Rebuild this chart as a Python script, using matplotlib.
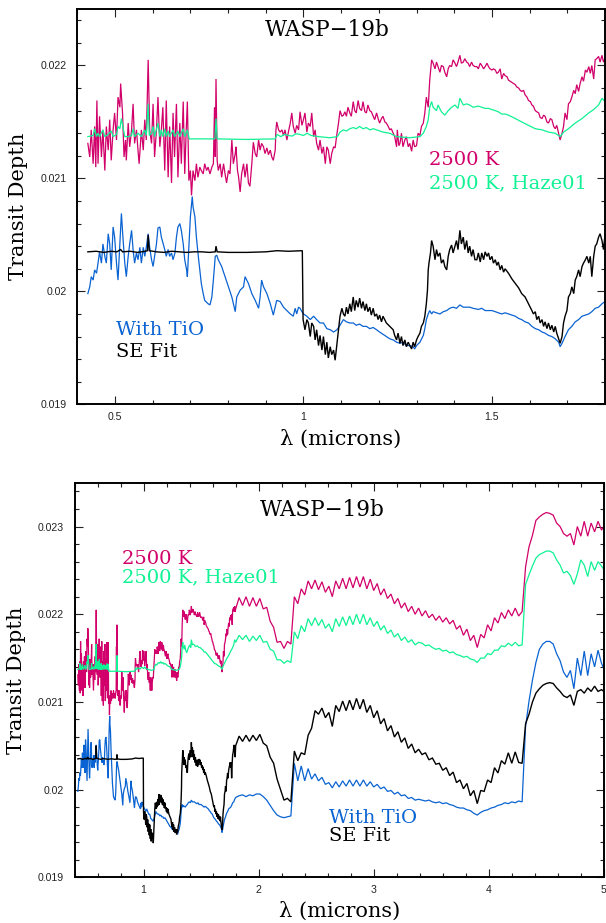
import numpy as np
import matplotlib
matplotlib.use("Agg")
import matplotlib.pyplot as plt
from matplotlib.ticker import MultipleLocator, FixedLocator, FixedFormatter

# ---------------- data (transit depth in units of 1e-3) ----------------
# short-wavelength detail (0.43 - 1.8 micron)
pink_wl = [
    0.428, 0.433, 0.437, 0.442, 0.446, 0.449, 0.452, 0.455, 0.459, 0.464,
    0.468, 0.473, 0.477, 0.482, 0.486, 0.490, 0.495, 0.499, 0.504, 0.508,
    0.513, 0.515, 0.520, 0.524, 0.528, 0.530, 0.535, 0.539, 0.544, 0.548,
    0.552, 0.557, 0.561, 0.564, 0.570, 0.575, 0.579, 0.583, 0.588, 0.592,
    0.597, 0.601, 0.605, 0.610, 0.614, 0.619, 0.623, 0.627, 0.632, 0.636,
    0.641, 0.645, 0.650, 0.654, 0.658, 0.663, 0.667, 0.672, 0.676, 0.681,
    0.685, 0.689, 0.692, 0.696, 0.700, 0.703, 0.707, 0.712, 0.716, 0.720,
    0.725, 0.729, 0.734, 0.738, 0.743, 0.747, 0.752, 0.757, 0.761, 0.764,
    0.766, 0.768, 0.771, 0.774, 0.779, 0.783, 0.788, 0.792, 0.796, 0.801,
    0.805, 0.810, 0.814, 0.819, 0.821, 0.825, 0.828, 0.832, 0.836, 0.841,
    0.845, 0.850, 0.854, 0.858, 0.863, 0.867, 0.872, 0.876, 0.881, 0.885,
    0.889, 0.894, 0.898, 0.903, 0.907, 0.912, 0.916, 0.920, 0.925, 0.927,
    0.929, 0.934, 0.938, 0.943, 0.947, 0.951, 0.956, 0.960, 0.965, 0.969,
    0.973, 0.978, 0.982, 0.987, 0.991, 0.996, 1.000, 1.004, 1.009, 1.013,
    1.018, 1.022, 1.027, 1.031, 1.035, 1.040, 1.044, 1.049, 1.053, 1.058,
    1.062, 1.066, 1.071, 1.075, 1.080, 1.084, 1.089, 1.093, 1.097, 1.102,
    1.106, 1.110, 1.114, 1.118, 1.123, 1.127, 1.132, 1.136, 1.140, 1.145,
    1.149, 1.154, 1.158, 1.163, 1.167, 1.171, 1.176, 1.180, 1.185, 1.189,
    1.194, 1.198, 1.202, 1.207, 1.211, 1.216, 1.220, 1.225, 1.229, 1.233,
    1.238, 1.242, 1.247, 1.249, 1.253, 1.256, 1.260, 1.264, 1.269, 1.273,
    1.278, 1.282, 1.287, 1.291, 1.295, 1.300, 1.304, 1.309, 1.313, 1.318,
    1.322, 1.326, 1.331, 1.335, 1.340, 1.344, 1.349, 1.353, 1.357, 1.362,
    1.366, 1.371, 1.375, 1.380, 1.384, 1.388, 1.393, 1.397, 1.402, 1.406,
    1.410, 1.415, 1.419, 1.424, 1.428, 1.433, 1.437, 1.441, 1.446, 1.450,
    1.455, 1.460, 1.464, 1.469, 1.473, 1.478, 1.482, 1.487, 1.491, 1.495,
    1.500, 1.504, 1.509, 1.513, 1.517, 1.522, 1.526, 1.531, 1.535, 1.540,
    1.544, 1.553, 1.562, 1.566, 1.571, 1.575, 1.579, 1.584, 1.588, 1.593,
    1.597, 1.602, 1.606, 1.610, 1.615, 1.619, 1.624, 1.628, 1.633, 1.637,
    1.641, 1.646, 1.650, 1.655, 1.659, 1.664, 1.668, 1.672, 1.677, 1.681,
    1.686, 1.690, 1.694, 1.699, 1.703, 1.708, 1.712, 1.717, 1.721, 1.725,
    1.730, 1.734, 1.739, 1.743, 1.748, 1.752, 1.757, 1.761, 1.765, 1.770,
    1.774, 1.778, 1.783, 1.787, 1.792, 1.796]
pink_td = [
    21.31, 21.19, 21.43, 21.13, 21.46, 21.10, 21.69, 21.13, 21.55, 21.19,
    21.43, 21.07, 21.46, 21.25, 21.52, 21.16, 21.43, 21.58, 21.34, 21.72,
    21.63, 21.84, 21.58, 21.19, 21.34, 21.16, 21.49, 21.28, 21.43, 21.66,
    21.31, 21.43, 21.25, 21.13, 21.43, 21.25, 21.52, 21.34, 22.05, 21.43,
    21.31, 21.66, 21.19, 21.43, 21.72, 21.28, 21.43, 21.63, 21.07, 21.69,
    21.01, 21.46, 20.96, 21.58, 21.19, 21.66, 21.01, 21.49, 21.13, 21.68,
    21.04, 21.43, 21.68, 20.98, 21.07, 20.85, 21.07, 20.98, 21.13, 21.01,
    21.10, 21.07, 21.04, 21.13, 21.07, 21.10, 21.04, 21.10, 21.13, 21.63,
    21.19, 21.88, 21.16, 21.07, 21.13, 21.01, 21.13, 21.04, 20.96, 21.07,
    21.04, 21.34, 21.13, 21.22, 21.28, 21.07, 21.01, 20.88, 21.04, 21.13,
    21.01, 21.13, 20.96, 20.93, 21.13, 21.32, 21.22, 21.19, 21.34, 21.25,
    21.31, 21.28, 21.22, 21.27, 21.21, 21.25, 21.19, 21.16, 21.25, 21.43,
    21.50, 21.43, 21.41, 21.43, 21.38, 21.43, 21.34, 21.41, 21.49, 21.58,
    21.46, 21.40, 21.47, 21.43, 21.59, 21.47, 21.52, 21.58, 21.41, 21.49,
    21.46, 21.58, 21.37, 21.43, 21.31, 21.25, 21.34, 21.22, 21.28, 21.13,
    21.28, 21.25, 21.13, 21.22, 21.28, 21.27, 21.40, 21.49, 21.60, 21.55,
    21.56, 21.59, 21.55, 21.63, 21.58, 21.55, 21.68, 21.60, 21.58, 21.69,
    21.62, 21.60, 21.68, 21.59, 21.58, 21.65, 21.60, 21.59, 21.55, 21.52,
    21.58, 21.53, 21.49, 21.53, 21.55, 21.50, 21.49, 21.46, 21.43, 21.44,
    21.40, 21.37, 21.28, 21.43, 21.29, 21.31, 21.40, 21.28, 21.34, 21.37,
    21.28, 21.31, 21.24, 21.34, 21.28, 21.29, 21.40, 21.38, 21.46, 21.49,
    21.58, 21.72, 21.63, 21.87, 22.05, 22.02, 21.97, 22.03, 21.99, 21.94,
    22.00, 21.99, 21.94, 21.90, 21.97, 22.00, 21.99, 22.05, 22.02, 21.99,
    22.03, 22.09, 22.02, 22.03, 22.06, 22.03, 22.02, 21.99, 22.03, 22.00,
    21.99, 21.99, 21.97, 22.02, 22.00, 21.97, 21.99, 22.02, 21.99, 21.97,
    21.96, 21.97, 21.96, 21.93, 21.94, 21.97, 21.88, 21.93, 21.91, 21.90,
    21.87, 21.85, 21.83, 21.81, 21.80, 21.78, 21.77, 21.78, 21.74, 21.72,
    21.69, 21.68, 21.65, 21.64, 21.60, 21.59, 21.58, 21.54, 21.53, 21.56,
    21.55, 21.50, 21.49, 21.53, 21.52, 21.46, 21.44, 21.47, 21.40, 21.34,
    21.40, 21.46, 21.58, 21.52, 21.66, 21.68, 21.72, 21.78, 21.75, 21.83,
    21.77, 21.84, 21.90, 21.86, 21.96, 21.94, 21.99, 21.93, 22.00, 21.88,
    22.05, 22.06, 22.08, 22.03, 22.09, 22.03]

green_wl = [
    0.428, 0.442, 0.446, 0.451, 0.455, 0.459, 0.468, 0.473, 0.482, 0.490,
    0.495, 0.504, 0.508, 0.513, 0.517, 0.521, 0.526, 0.535, 0.544, 0.548,
    0.552, 0.561, 0.570, 0.579, 0.583, 0.588, 0.591, 0.597, 0.601, 0.605,
    0.614, 0.619, 0.623, 0.627, 0.632, 0.636, 0.641, 0.645, 0.654, 0.658,
    0.667, 0.672, 0.681, 0.685, 0.692, 0.697, 0.730, 0.765, 0.768, 0.771,
    0.850, 0.925, 0.930, 0.940, 0.950, 0.960, 0.970, 0.980, 0.990, 1.000,
    1.010, 1.020, 1.030, 1.040, 1.055, 1.070, 1.090, 1.097, 1.106, 1.114,
    1.123, 1.132, 1.140, 1.149, 1.158, 1.167, 1.176, 1.185, 1.194, 1.211,
    1.229, 1.247, 1.265, 1.282, 1.309, 1.318, 1.326, 1.331, 1.335, 1.340,
    1.344, 1.353, 1.357, 1.366, 1.375, 1.384, 1.393, 1.402, 1.410, 1.415,
    1.424, 1.433, 1.441, 1.450, 1.464, 1.473, 1.482, 1.491, 1.500, 1.509,
    1.517, 1.526, 1.535, 1.544, 1.562, 1.579, 1.597, 1.615, 1.633, 1.650,
    1.668, 1.681, 1.690, 1.703, 1.721, 1.739, 1.757, 1.770, 1.783, 1.792]
green_td = [
    21.37, 21.38, 21.44, 21.37, 21.40, 21.37, 21.43, 21.37, 21.39, 21.42,
    21.37, 21.39, 21.46, 21.44, 21.53, 21.46, 21.37, 21.37, 21.38, 21.44,
    21.37, 21.40, 21.37, 21.43, 21.38, 21.66, 21.38, 21.40, 21.46, 21.37,
    21.49, 21.37, 21.43, 21.37, 21.44, 21.37, 21.42, 21.37, 21.43, 21.37,
    21.42, 21.37, 21.44, 21.37, 21.43, 21.35, 21.35, 21.35, 21.53, 21.35,
    21.345, 21.35, 21.39, 21.37, 21.39, 21.38, 21.375, 21.395, 21.39, 21.38,
    21.40, 21.38, 21.375, 21.37, 21.365, 21.36, 21.37, 21.41, 21.43, 21.42,
    21.44, 21.45, 21.44, 21.46, 21.44, 21.45, 21.43, 21.44, 21.43, 21.41,
    21.40, 21.37, 21.365, 21.36, 21.37, 21.40, 21.46, 21.52, 21.63, 21.68,
    21.63, 21.60, 21.65, 21.59, 21.56, 21.60, 21.63, 21.65, 21.62, 21.71,
    21.65, 21.66, 21.65, 21.63, 21.64, 21.63, 21.62, 21.62, 21.61, 21.60,
    21.59, 21.57, 21.57, 21.56, 21.53, 21.50, 21.47, 21.44, 21.43, 21.41,
    21.40, 21.37, 21.41, 21.44, 21.49, 21.53, 21.58, 21.61, 21.65, 21.71]

blue_wl = [
    0.428, 0.433, 0.437, 0.442, 0.446, 0.451, 0.455, 0.459, 0.464, 0.468,
    0.473, 0.477, 0.482, 0.486, 0.490, 0.495, 0.499, 0.504, 0.508, 0.513,
    0.517, 0.521, 0.526, 0.530, 0.535, 0.539, 0.544, 0.548, 0.552, 0.557,
    0.561, 0.566, 0.570, 0.575, 0.579, 0.583, 0.588, 0.592, 0.597, 0.601,
    0.605, 0.610, 0.614, 0.619, 0.623, 0.628, 0.632, 0.636, 0.641, 0.645,
    0.650, 0.654, 0.659, 0.663, 0.667, 0.672, 0.676, 0.681, 0.685, 0.690,
    0.692, 0.696, 0.700, 0.705, 0.707, 0.712, 0.716, 0.721, 0.725, 0.729,
    0.734, 0.738, 0.747, 0.752, 0.757, 0.761, 0.766, 0.770, 0.774, 0.783,
    0.792, 0.801, 0.810, 0.819, 0.823, 0.832, 0.841, 0.845, 0.854, 0.863,
    0.872, 0.881, 0.885, 0.889, 0.894, 0.903, 0.912, 0.920, 0.925, 0.929,
    0.938, 0.947, 0.956, 0.965, 0.973, 0.978, 0.982, 0.987, 0.991, 0.996,
    1.000, 1.009, 1.018, 1.027, 1.035, 1.044, 1.053, 1.062, 1.071, 1.080,
    1.089, 1.097, 1.106, 1.114, 1.123, 1.132, 1.140, 1.149, 1.158, 1.167,
    1.176, 1.185, 1.194, 1.202, 1.211, 1.220, 1.229, 1.238, 1.247, 1.256,
    1.264, 1.273, 1.282, 1.291, 1.295, 1.300, 1.309, 1.318, 1.322, 1.326,
    1.331, 1.335, 1.340, 1.344, 1.353, 1.362, 1.371, 1.380, 1.388, 1.397,
    1.406, 1.415, 1.424, 1.433, 1.441, 1.450, 1.464, 1.473, 1.482, 1.491,
    1.500, 1.509, 1.517, 1.526, 1.535, 1.544, 1.553, 1.562, 1.571, 1.579,
    1.588, 1.597, 1.606, 1.615, 1.624, 1.633, 1.641, 1.650, 1.659, 1.668,
    1.677, 1.681, 1.686, 1.694, 1.703, 1.712, 1.721, 1.730, 1.739, 1.748,
    1.757, 1.765, 1.774, 1.783, 1.792]
blue_td = [
    19.98, 20.04, 20.13, 20.10, 20.19, 20.16, 20.25, 20.35, 20.25, 20.42,
    20.31, 20.25, 20.51, 20.42, 20.19, 20.57, 20.48, 20.25, 20.10, 20.42,
    20.69, 20.48, 20.25, 20.13, 20.31, 20.42, 20.54, 20.37, 20.25, 20.34,
    20.28, 20.39, 20.25, 20.39, 20.31, 20.39, 20.51, 20.39, 20.28, 20.22,
    20.31, 20.42, 20.56, 20.57, 20.48, 20.42, 20.37, 20.31, 20.37, 20.31,
    20.34, 20.28, 20.34, 20.48, 20.57, 20.60, 20.54, 20.42, 20.28, 20.19,
    20.13, 20.39, 20.66, 20.84, 20.75, 20.66, 20.48, 20.31, 20.19, 20.07,
    19.98, 19.92, 19.89, 19.88, 19.95, 20.10, 20.31, 20.32, 20.28, 20.22,
    20.13, 20.04, 19.95, 19.82, 19.95, 20.01, 20.04, 20.13, 20.07, 19.98,
    19.92, 19.85, 19.95, 20.10, 20.04, 19.98, 19.89, 19.79, 19.86, 19.92,
    19.91, 19.86, 19.83, 19.80, 19.78, 19.85, 19.80, 19.86, 19.85, 19.82,
    19.80, 19.78, 19.75, 19.78, 19.75, 19.72, 19.72, 19.67, 19.66, 19.64,
    19.66, 19.70, 19.75, 19.73, 19.72, 19.72, 19.70, 19.71, 19.69, 19.69,
    19.67, 19.68, 19.66, 19.64, 19.62, 19.60, 19.58, 19.57, 19.55, 19.54,
    19.55, 19.52, 19.52, 19.51, 19.49, 19.52, 19.55, 19.61, 19.67, 19.75,
    19.80, 19.83, 19.80, 19.82, 19.81, 19.80, 19.82, 19.83, 19.85, 19.86,
    19.85, 19.88, 19.86, 19.86, 19.86, 19.85, 19.84, 19.85, 19.83, 19.83,
    19.83, 19.82, 19.81, 19.80, 19.81, 19.80, 19.79, 19.78, 19.76, 19.75,
    19.73, 19.72, 19.69, 19.67, 19.66, 19.64, 19.63, 19.61, 19.60, 19.58,
    19.55, 19.51, 19.54, 19.60, 19.66, 19.69, 19.73, 19.75, 19.78, 19.79,
    19.80, 19.82, 19.85, 19.86, 19.89]

black_wl = [
    0.428, 0.450, 0.470, 0.490, 0.505, 0.515, 0.520, 0.540, 0.560, 0.580,
    0.586, 0.588, 0.591, 0.610, 0.630, 0.650, 0.670, 0.690, 0.710, 0.730,
    0.750, 0.766, 0.768, 0.771, 0.800, 0.850, 0.900, 0.930, 0.960, 0.997,
    0.999, 1.004, 1.009, 1.013, 1.018, 1.022, 1.027, 1.031, 1.035, 1.040,
    1.044, 1.049, 1.053, 1.058, 1.062, 1.066, 1.071, 1.075, 1.080, 1.084,
    1.089, 1.093, 1.097, 1.102, 1.106, 1.110, 1.114, 1.118, 1.123, 1.127,
    1.132, 1.136, 1.140, 1.145, 1.149, 1.154, 1.158, 1.163, 1.167, 1.171,
    1.176, 1.180, 1.185, 1.189, 1.194, 1.198, 1.202, 1.207, 1.211, 1.220,
    1.229, 1.238, 1.242, 1.247, 1.251, 1.256, 1.260, 1.264, 1.269, 1.273,
    1.278, 1.282, 1.287, 1.291, 1.295, 1.300, 1.304, 1.309, 1.313, 1.318,
    1.322, 1.326, 1.329, 1.331, 1.333, 1.337, 1.340, 1.344, 1.349, 1.353,
    1.357, 1.362, 1.366, 1.371, 1.375, 1.380, 1.384, 1.388, 1.393, 1.397,
    1.402, 1.406, 1.410, 1.415, 1.419, 1.424, 1.428, 1.433, 1.437, 1.441,
    1.446, 1.450, 1.455, 1.460, 1.464, 1.469, 1.473, 1.478, 1.482, 1.487,
    1.491, 1.495, 1.500, 1.504, 1.509, 1.513, 1.517, 1.522, 1.526, 1.531,
    1.535, 1.544, 1.553, 1.562, 1.571, 1.579, 1.588, 1.597, 1.606, 1.610,
    1.615, 1.619, 1.624, 1.628, 1.633, 1.637, 1.641, 1.646, 1.650, 1.655,
    1.659, 1.664, 1.668, 1.672, 1.677, 1.681, 1.686, 1.690, 1.694, 1.699,
    1.703, 1.708, 1.712, 1.717, 1.721, 1.725, 1.730, 1.734, 1.739, 1.743,
    1.748, 1.752, 1.757, 1.761, 1.765, 1.770, 1.774, 1.778, 1.783, 1.787,
    1.792, 1.796]
black_td = [
    20.35, 20.355, 20.345, 20.355, 20.35, 20.37, 20.35, 20.355, 20.345, 20.355,
    20.36, 20.50, 20.36, 20.35, 20.345, 20.355, 20.35, 20.345, 20.35, 20.35,
    20.345, 20.35, 20.40, 20.35, 20.345, 20.345, 20.35, 20.36, 20.355, 20.36,
    19.75, 19.66, 19.75, 19.72, 19.60, 19.72, 19.69, 19.57, 19.66, 19.52,
    19.61, 19.48, 19.60, 19.44, 19.55, 19.41, 19.51, 19.44, 19.48, 19.39,
    19.54, 19.66, 19.78, 19.85, 19.80, 19.78, 19.86, 19.80, 19.89, 19.82,
    19.95, 19.83, 19.92, 19.86, 19.94, 19.85, 19.91, 19.83, 19.89, 19.82,
    19.86, 19.79, 19.85, 19.78, 19.80, 19.75, 19.79, 19.73, 19.78, 19.72,
    19.69, 19.66, 19.61, 19.57, 19.63, 19.54, 19.60, 19.52, 19.57, 19.51,
    19.55, 19.52, 19.49, 19.55, 19.51, 19.57, 19.60, 19.63, 19.69, 19.72,
    19.78, 19.89, 20.01, 20.19, 20.25, 20.34, 20.45, 20.40, 20.28, 20.37,
    20.31, 20.34, 20.25, 20.28, 20.22, 20.19, 20.31, 20.37, 20.41, 20.34,
    20.40, 20.45, 20.37, 20.54, 20.42, 20.48, 20.37, 20.45, 20.34, 20.40,
    20.31, 20.37, 20.28, 20.28, 20.34, 20.26, 20.34, 20.28, 20.35, 20.31,
    20.34, 20.28, 20.31, 20.25, 20.28, 20.23, 20.26, 20.19, 20.23, 20.17,
    20.20, 20.16, 20.11, 20.07, 20.03, 19.98, 19.95, 19.89, 19.83, 19.80,
    19.82, 19.75, 19.78, 19.72, 19.75, 19.69, 19.73, 19.67, 19.72, 19.66,
    19.70, 19.64, 19.69, 19.63, 19.58, 19.54, 19.60, 19.72, 19.78, 19.83,
    19.95, 19.98, 20.04, 19.98, 20.10, 20.13, 20.19, 20.13, 20.22, 20.25,
    20.28, 20.31, 20.25, 20.31, 20.13, 20.31, 20.40, 20.42, 20.48, 20.51,
    20.45, 20.37]

# long-wavelength part (1.8 - 5 micron), common wavelength sampling
wl_long = [
    1.80, 1.83, 1.86, 1.89, 1.92, 1.95, 1.98, 2.01, 2.04, 2.07,
    2.10, 2.13, 2.16, 2.19, 2.22, 2.25, 2.28, 2.31, 2.34, 2.37,
    2.40, 2.43, 2.46, 2.49, 2.52, 2.55, 2.58, 2.61, 2.64, 2.67,
    2.70, 2.73, 2.76, 2.79, 2.82, 2.85, 2.88, 2.91, 2.94, 2.97,
    3.00, 3.03, 3.06, 3.09, 3.12, 3.15, 3.18, 3.21, 3.24, 3.27,
    3.30, 3.33, 3.36, 3.39, 3.42, 3.45, 3.48, 3.51, 3.54, 3.57,
    3.60, 3.63, 3.66, 3.69, 3.72, 3.75, 3.78, 3.81, 3.84, 3.87,
    3.90, 3.93, 3.96, 3.99, 4.02, 4.05, 4.08, 4.11, 4.14, 4.17,
    4.20, 4.23, 4.26, 4.29, 4.32, 4.35, 4.38, 4.41, 4.44, 4.47,
    4.50, 4.53, 4.56, 4.59, 4.62, 4.65, 4.68, 4.71, 4.74, 4.77,
    4.80, 4.83, 4.86, 4.89, 4.92, 4.95, 4.98, 5.00]
pink_long = [
    22.06, 22.19, 22.10, 22.20, 22.09, 22.19, 22.09, 22.18, 22.06, 22.08,
    21.92, 21.85, 21.68, 21.69, 21.61, 21.69, 21.66, 22.20, 22.12, 22.29,
    22.22, 22.38, 22.29, 22.39, 22.28, 22.37, 22.25, 22.32, 22.20, 22.38,
    22.29, 22.41, 22.29, 22.42, 22.30, 22.43, 22.31, 22.43, 22.29, 22.40,
    22.27, 22.35, 22.22, 22.29, 22.18, 22.23, 22.12, 22.18, 22.07, 22.13,
    22.03, 22.09, 22.00, 22.07, 21.98, 22.04, 21.96, 22.00, 21.93, 21.98,
    21.91, 21.96, 21.89, 21.93, 21.83, 21.87, 21.76, 21.83, 21.70, 21.76,
    21.62, 21.77, 21.73, 21.88, 21.81, 21.96, 21.90, 22.02, 21.95, 22.05,
    21.98, 22.07, 21.98, 22.03, 22.54, 22.77, 22.90, 23.07, 23.11, 23.14,
    23.16, 23.15, 23.13, 23.04, 23.00, 22.92, 22.89, 22.92, 22.79, 23.00,
    22.89, 23.06, 22.89, 23.04, 22.94, 23.06, 22.96, 23.00]
green_long = [
    21.68, 21.76, 21.71, 21.76, 21.69, 21.75, 21.70, 21.76, 21.68, 21.69,
    21.60, 21.58, 21.48, 21.48, 21.44, 21.47, 21.45, 21.80, 21.72, 21.87,
    21.80, 21.95, 21.87, 21.96, 21.87, 21.94, 21.84, 21.89, 21.80, 21.95,
    21.86, 21.97, 21.87, 21.98, 21.88, 22.00, 21.89, 22.00, 21.88, 21.96,
    21.86, 21.92, 21.82, 21.87, 21.78, 21.82, 21.74, 21.78, 21.70, 21.74,
    21.68, 21.71, 21.65, 21.68, 21.67, 21.64, 21.65, 21.62, 21.60, 21.61,
    21.58, 21.59, 21.56, 21.57, 21.54, 21.53, 21.51, 21.52, 21.49, 21.48,
    21.45, 21.50, 21.50, 21.55, 21.54, 21.59, 21.59, 21.64, 21.63, 21.67,
    21.64, 21.68, 21.64, 21.65, 22.34, 22.45, 22.55, 22.64, 22.68, 22.70,
    22.72, 22.72, 22.70, 22.62, 22.56, 22.47, 22.49, 22.44, 22.34, 22.46,
    22.62, 22.56, 22.43, 22.60, 22.50, 22.60, 22.55, 22.51]
blue_long = [
    19.91, 19.93, 19.94, 19.92, 19.94, 19.93, 19.95, 19.95, 19.92, 19.88,
    19.82, 19.76, 19.71, 19.69, 19.68, 19.69, 19.70, 20.30, 20.10, 20.27,
    20.10, 20.24, 20.12, 20.18, 20.10, 20.14, 20.06, 20.08, 20.02, 20.09,
    20.03, 20.10, 20.04, 20.11, 20.04, 20.11, 20.04, 20.11, 20.04, 20.09,
    20.03, 20.06, 20.01, 20.03, 19.98, 19.99, 19.95, 19.97, 19.93, 19.94,
    19.90, 19.91, 19.88, 19.89, 19.88, 19.87, 19.88, 19.86, 19.85, 19.86,
    19.84, 19.85, 19.83, 19.82, 19.80, 19.79, 19.79, 19.77, 19.76, 19.73,
    19.71, 19.74, 19.76, 19.77, 19.79, 19.80, 19.82, 19.83, 19.85, 19.84,
    19.86, 19.85, 19.87, 19.86, 20.72, 21.01, 21.25, 21.45, 21.60, 21.66,
    21.69, 21.69, 21.66, 21.55, 21.47, 21.34, 21.28, 21.36, 21.15, 21.50,
    21.30, 21.58, 21.30, 21.55, 21.40, 21.59, 21.44, 21.38]
black_long = [
    20.50, 20.61, 20.55, 20.62, 20.55, 20.62, 20.56, 20.63, 20.53, 20.50,
    20.37, 20.30, 20.12, 20.00, 19.88, 19.90, 19.86, 20.44, 20.33, 20.42,
    20.40, 20.62, 20.70, 20.90, 20.86, 20.93, 20.82, 20.88, 20.72, 20.96,
    20.89, 21.01, 20.90, 21.02, 20.91, 21.04, 20.92, 21.03, 20.88, 20.96,
    20.82, 20.90, 20.75, 20.81, 20.67, 20.73, 20.60, 20.66, 20.54, 20.59,
    20.47, 20.52, 20.42, 20.46, 20.40, 20.42, 20.34, 20.36, 20.29, 20.30,
    20.22, 20.25, 20.16, 20.20, 20.08, 20.11, 20.01, 20.07, 19.93, 19.99,
    19.84, 19.99, 19.98, 20.11, 20.08, 20.25, 20.19, 20.33, 20.29, 20.42,
    20.30, 20.43, 20.31, 20.30, 20.75, 20.86, 21.00, 21.10, 21.15, 21.19,
    21.21, 21.22, 21.21, 21.16, 21.12, 21.07, 21.05, 21.08, 20.96, 21.12,
    21.14, 21.10, 21.16, 21.12, 21.18, 21.12, 21.14, 21.12]

# tick labels / texts
top_xticks = [0.5, 1.0, 1.5]
top_xlabels = ["0.5", "1", "1.5"]
top_yticks = [0.019, 0.020, 0.021, 0.022]
top_ylabels = ["0.019", "0.02", "0.021", "0.022"]
bot_xticks = [1, 2, 3, 4, 5]
bot_xlabels = ["1", "2", "3", "4", "5"]
bot_yticks = [0.019, 0.020, 0.021, 0.022, 0.023]
bot_ylabels = ["0.019", "0.02", "0.021", "0.022", "0.023"]

PINK = "#D1006A"
GREEN = "#10F293"
BLUE = "#0A63D2"
BLACK = "#000000"

series = [
    (pink_wl, pink_td, pink_long, PINK, 0.9),
    (green_wl, green_td, green_long, GREEN, 0.9),
    (blue_wl, blue_td, blue_long, BLUE, 0.9),
    (black_wl, black_td, black_long, BLACK, 1.0),
]

SERIF = ["DejaVu Serif"]
TICKFONT = ["Liberation Sans", "DejaVu Sans"]

W, H = 606, 923
fig = plt.figure(figsize=(W / 100, H / 100), dpi=100)
ax1 = fig.add_axes([77.3 / W, (H - 404.3) / H, 527.7 / W, 395.3 / H])
ax2 = fig.add_axes([74.6 / W, (H - 877.3) / H, 529.2 / W, 394.6 / H])

for ax in (ax1, ax2):
    for swl, std, ltd, col, lw in series:
        wl = np.concatenate([np.array(swl), np.array(wl_long)])
        td = np.concatenate([np.array(std), np.array(ltd)]) * 1e-3
        ax.plot(wl, td, color=col, lw=lw, solid_joinstyle="miter")

def style(ax, xlim, ylim, xt, xl, yt, yl, xminor):
    ax.set_xlim(*xlim)
    ax.set_ylim(*ylim)
    ax.xaxis.set_major_locator(FixedLocator(xt))
    ax.xaxis.set_major_formatter(FixedFormatter(xl))
    ax.yaxis.set_major_locator(FixedLocator(yt))
    ax.yaxis.set_major_formatter(FixedFormatter(yl))
    ax.xaxis.set_minor_locator(MultipleLocator(xminor))
    ax.yaxis.set_minor_locator(MultipleLocator(0.0002))
    ax.tick_params(which="both", direction="in", top=True, right=True,
                   width=0.8, color="#222222")
    ax.tick_params(which="major", length=6.0)
    ax.tick_params(which="minor", length=3.0)
    ax.tick_params(axis="y", pad=7.5)
    ax.tick_params(axis="x", pad=5.5)
    for lab in ax.get_xticklabels() + ax.get_yticklabels():
        lab.set_fontfamily(TICKFONT)
        lab.set_fontsize(7.6)
        lab.set_color("#222222")
    for sp in ax.spines.values():
        sp.set_linewidth(1.4)

style(ax1, (0.4, 1.8), (0.019, 0.0225), top_xticks, top_xlabels,
      top_yticks, top_ylabels, 0.1)
style(ax2, (0.4, 5.0), (0.019, 0.0235), bot_xticks, bot_xlabels,
      bot_yticks, bot_ylabels, 0.2)

# titles and labels
ax1.text(0.474, 0.947, "WASP\u221219b", transform=ax1.transAxes, ha="center",
         va="center", fontsize=15.5, family=SERIF)
ax2.text(0.4675, 0.931, "WASP\u221219b", transform=ax2.transAxes, ha="center",
         va="center", fontsize=15.5, family=SERIF)

lab_fs = 14
ax1.text(0.6665, 0.618, "2500 K", color=PINK, transform=ax1.transAxes,
         ha="left", va="center", fontsize=lab_fs, family=SERIF)
ax1.text(0.6665, 0.560, "2500 K, Haze01", color=GREEN, transform=ax1.transAxes,
         ha="left", va="center", fontsize=lab_fs, family=SERIF)
ax1.text(0.0733, 0.188, "With TiO", color=BLUE, transform=ax1.transAxes,
         ha="left", va="center", fontsize=lab_fs, family=SERIF)
ax1.text(0.0733, 0.132, "SE Fit", color=BLACK, transform=ax1.transAxes,
         ha="left", va="center", fontsize=lab_fs, family=SERIF)

ax2.text(0.0892, 0.806, "2500 K", color=PINK, transform=ax2.transAxes,
         ha="left", va="center", fontsize=lab_fs, family=SERIF)
ax2.text(0.0892, 0.760, "2500 K, Haze01", color=GREEN, transform=ax2.transAxes,
         ha="left", va="center", fontsize=lab_fs, family=SERIF)
ax2.text(0.480, 0.1495, "With TiO", color=BLUE, transform=ax2.transAxes,
         ha="left", va="center", fontsize=lab_fs, family=SERIF)
ax2.text(0.480, 0.1047, "SE Fit", color=BLACK, transform=ax2.transAxes,
         ha="left", va="center", fontsize=lab_fs, family=SERIF)

fig.text(18.5 / W, 1 - 206.7 / H, "Transit Depth", rotation=90, ha="center",
         va="center", fontsize=15, family=SERIF)
fig.text(16.5 / W, 1 - 680.0 / H, "Transit Depth", rotation=90, ha="center",
         va="center", fontsize=15, family=SERIF)
fig.text(341 / W, 1 - 439 / H, "\u03bb (microns)", ha="center", va="center",
         fontsize=15, family=SERIF)
fig.text(339.2 / W, 1 - 911.5 / H, "\u03bb (microns)", ha="center", va="center",
         fontsize=15, family=SERIF)

fig.savefig("out.png", dpi=100)
